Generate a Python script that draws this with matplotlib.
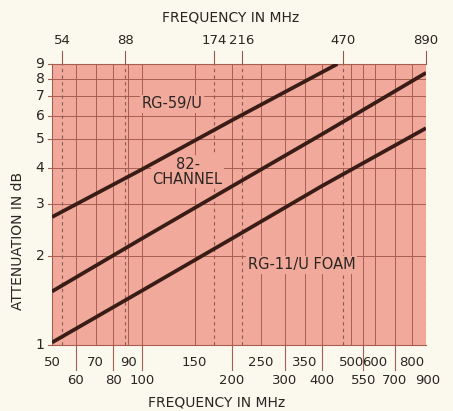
#!/usr/bin/env python3
"""Coax cable attenuation vs frequency (log-log chart)."""

import matplotlib

matplotlib.use("Agg")

import matplotlib.pyplot as plt

# ---- data ----
rg59_freq = [50, 100, 200, 450]
rg59_db = [2.72, 3.95, 5.8, 9.0]

ch82_freq = [50, 100, 200, 400, 890]
ch82_db = [1.52, 2.3, 3.46, 5.2, 8.4]

rg11_freq = [50, 100, 200, 400, 890]
rg11_db = [1.02, 1.53, 2.3, 3.47, 5.45]

# bottom labels: upper row / lower row
upper_row = [50, 70, 90, 150, 250, 350, 500, 600, 800]
lower_row = [60, 80, 100, 200, 300, 400, 550, 700, 900]
lower_ticks = [60, 80, 100, 200, 300, 400, 550, 700]
grid_freqs = [60, 70, 80, 90, 100, 150, 200, 250, 300, 350, 400, 500, 550, 600, 700, 800]

# TV channel band edges (top axis)
channel_freqs = [54, 88, 174, 216, 470, 890]

y_ticks = [1, 2, 3, 4, 5, 6, 7, 8, 9]

PAGE = "#fbf8ee"
FACE = "#f0a99b"
GRID = "#a85e50"
DASH = "#8e5a4c"
CURVE = "#3a1c16"
TEXT = "#2b2522"

fig = plt.figure(figsize=(4.53, 4.11), dpi=100, facecolor=PAGE)
ax = fig.add_axes([52 / 453, 1 - 345 / 411, 374 / 453, 281 / 411], facecolor=FACE)
ax.set_xscale("log")
ax.set_yscale("log")
ax.set_xlim(50, 890)
ax.set_ylim(1, 9)

ax.set_xticks([])
ax.set_yticks([])
ax.minorticks_off()
for side in ("top", "left", "bottom"):
    ax.spines[side].set_color(GRID)
    ax.spines[side].set_linewidth(0.8)
ax.spines["right"].set_visible(False)

# grid
for f in grid_freqs:
    ax.axvline(f, color=GRID, lw=0.7, zorder=1)
for v in y_ticks[1:-1]:
    ax.axhline(v, color=GRID, lw=0.7, zorder=1)
for f in channel_freqs:
    ax.axvline(f, color=DASH, lw=0.8, ls=(0, (3, 3)), zorder=1)

# curves
ax.plot(rg59_freq, rg59_db, color=CURVE, lw=2.7, solid_capstyle="butt", zorder=3)
ax.plot(ch82_freq, ch82_db, color=CURVE, lw=2.7, solid_capstyle="butt", zorder=3)
ax.plot(rg11_freq, rg11_db, color=CURVE, lw=2.7, solid_capstyle="butt", zorder=3)

box = dict(facecolor=FACE, edgecolor="none", pad=1.0)
ax.text(126, 6.6, "RG-59/U", color=TEXT, fontsize=10.5, ha="center", va="center",
        bbox=box, zorder=2)
ax.text(142, 3.88, "82-\nCHANNEL", color=TEXT, fontsize=10.5, ha="center", va="center",
        linespacing=1.0, bbox=box, zorder=2)
ax.text(342, 1.87, "RG-11/U FOAM", color=TEXT, fontsize=10.5, ha="center", va="center",
        bbox=box, zorder=2)

xt = ax.get_xaxis_transform()
yt = ax.get_yaxis_transform()

# bottom labels and ticks
for f in upper_row:
    ax.text(f, -0.062, str(f), transform=xt, ha="center", va="center",
            fontsize=9.5, color=TEXT)
for f in lower_row:
    ax.text(f, -0.125, str(f), transform=xt, ha="center", va="center",
            fontsize=9.5, color=TEXT)
for f in lower_ticks:
    ax.plot([f, f], [0, -0.09], transform=xt, color=GRID, lw=0.8, clip_on=False)
ax.text(0.44, -0.203, "FREQUENCY IN MHz", transform=ax.transAxes, ha="center",
        va="center", fontsize=10, color=TEXT)

# top labels and ticks
for f in channel_freqs:
    ax.plot([f, f], [1.0, 1.045], transform=xt, color=DASH, lw=0.8, clip_on=False)
    ax.text(f, 1.085, str(f), transform=xt, ha="center", va="center",
            fontsize=9.5, color=TEXT)
ax.text(0.477, 1.165, "FREQUENCY IN MHz", transform=ax.transAxes, ha="center",
        va="center", fontsize=10, color=TEXT)

# y labels
for v in y_ticks:
    ax.text(-0.032, v, str(v), transform=yt, ha="center", va="center",
            fontsize=10, color=TEXT)
    ax.plot([-0.012, 0], [v, v], transform=yt, color=GRID, lw=0.8, clip_on=False)
ax.text(-0.092, 0.37, "ATTENUATION IN dB", transform=ax.transAxes, rotation=90,
        ha="center", va="center", fontsize=10, color=TEXT)

fig.savefig("out.png", dpi=100, facecolor=PAGE)
